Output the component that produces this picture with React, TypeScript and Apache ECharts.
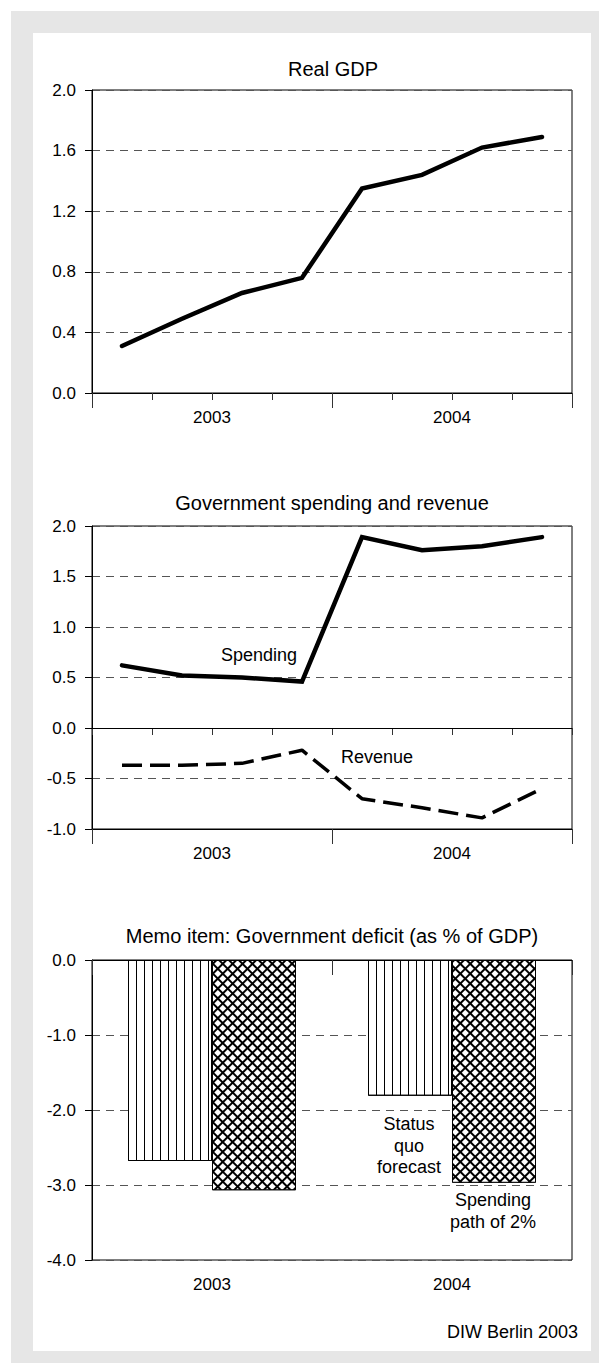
import React, { useEffect, useRef } from "react";
import * as echarts from "echarts";

const quarters = ["2003 Q1", "2003 Q2", "2003 Q3", "2003 Q4", "2004 Q1", "2004 Q2", "2004 Q3", "2004 Q4"];
const years = ["2003", "2004"];
const realGdp = [0.31, 0.49, 0.66, 0.76, 1.35, 1.44, 1.62, 1.69];
const spending = [0.62, 0.52, 0.5, 0.46, 1.89, 1.76, 1.8, 1.89];
const revenue = [-0.37, -0.37, -0.35, -0.22, -0.7, -0.79, -0.89, -0.6];
const deficitStatusQuo = [-2.68, -1.81];
const deficitSpendingPath = [-3.07, -2.97];
const chartTitles = ["Real GDP", "Government spending and revenue", "Memo item: Government deficit (as % of GDP)"];
const seriesNames = ["Real GDP", "Spending", "Revenue", "Status quo forecast", "Spending path of 2%"];
const source = "DIW Berlin 2003";

const FONT = '"Liberation Sans", Arial, Helvetica, sans-serif';

function quarterAxis(gridIndex: number) {
  return {
    type: "category",
    gridIndex,
    data: quarters,
    position: "bottom",
    boundaryGap: true,
    axisLine: { show: true, lineStyle: { color: "#000", width: 1 } },
    axisTick: { show: true, interval: 0, length: 7, lineStyle: { color: "#333" } },
    axisLabel: { show: false },
    splitLine: { show: false },
  };
}

function yearAxis(gridIndex: number) {
  return {
    type: "category",
    gridIndex,
    data: years,
    position: "bottom",
    boundaryGap: true,
    axisLine: { show: true, lineStyle: { color: "#000", width: 1 } },
    axisTick: { show: true, interval: 0, length: 15, lineStyle: { color: "#333" } },
    axisLabel: { show: true, margin: 16, fontSize: 17, color: "#000", fontFamily: FONT },
    splitLine: { show: false },
  };
}

function valueAxis(gridIndex: number, min: number, max: number, interval: number) {
  return {
    type: "value",
    gridIndex,
    min,
    max,
    interval,
    axisLine: { show: true, lineStyle: { color: "#000", width: 1 } },
    axisTick: { show: true, length: 7, lineStyle: { color: "#000" } },
    axisLabel: {
      margin: 16,
      fontSize: 17,
      color: "#000",
      fontFamily: FONT,
      formatter: (v: number) => v.toFixed(1),
    },
    splitLine: { show: true, lineStyle: { color: "#555", width: 1, type: [8, 6] } },
  };
}

function textEl(text: string, x: number, y: number, size: number, align = "center", lineHeight?: number) {
  return {
    type: "text",
    x,
    y,
    z: 100,
    style: {
      text,
      fontSize: size,
      fontFamily: FONT,
      fill: "#000",
      align,
      verticalAlign: "middle",
      textAlign: align,
      textVerticalAlign: "middle",
      lineHeight: lineHeight || size * 1.2,
    },
  };
}

function buildOption() {
  const grids = [
    { left: 92, top: 90, width: 480, height: 303 },
    { left: 92, top: 526, width: 480, height: 303 },
    { left: 92, top: 960, width: 480, height: 300 },
  ].map((g) => ({
    ...g,
    show: true,
    borderColor: "#000",
    borderWidth: 1,
    backgroundColor: "transparent",
    containLabel: false,
  }));

  return {
    animation: false,
    aria: { enabled: true, decal: { show: true } },
    textStyle: { fontFamily: FONT },
    grid: grids,
    xAxis: [quarterAxis(0), yearAxis(0), quarterAxis(1), yearAxis(1), yearAxis(2)],
    yAxis: [valueAxis(0, 0, 2, 0.4), valueAxis(1, -1, 2, 0.5), valueAxis(2, -4, 0, 1)],
    graphic: [
      { type: "rect", z: -20, shape: { x: 11, y: 11, width: 588, height: 1352 }, style: { fill: "#e6e6e6" } },
      { type: "rect", z: -10, shape: { x: 33, y: 33, width: 558, height: 1318 }, style: { fill: "#fff" } },
      textEl(chartTitles[0], 333, 69, 20),
      textEl(chartTitles[1], 332, 503, 20),
      textEl(chartTitles[2], 332, 936, 20),
      textEl("Spending", 259, 655, 18),
      textEl("Revenue", 377, 757, 18),
      textEl("Status\nquo\nforecast", 409, 1145.5, 18, "center", 21.5),
      textEl("Spending\npath of 2%", 493, 1211, 18, "center", 22),
      textEl(source, 578, 1332, 18, "right"),
    ],
    series: [
      {
        name: seriesNames[0],
        type: "line",
        xAxisIndex: 0,
        yAxisIndex: 0,
        data: realGdp,
        symbol: "none",
        lineStyle: { color: "#000", width: 4.5, cap: "round", join: "miter" },
        z: 5,
      },
      {
        name: seriesNames[1],
        type: "line",
        xAxisIndex: 2,
        yAxisIndex: 1,
        data: spending,
        symbol: "none",
        lineStyle: { color: "#000", width: 4.5, cap: "round", join: "miter" },
        z: 5,
        markLine: {
          silent: true,
          symbol: "none",
          label: { show: false },
          lineStyle: { color: "#000", width: 1, type: "solid" },
          data: [{ yAxis: 0 }],
        },
      },
      {
        name: seriesNames[2],
        type: "line",
        xAxisIndex: 2,
        yAxisIndex: 1,
        data: revenue,
        symbol: "none",
        lineStyle: { color: "#000", width: 3.5, type: [20, 8] },
        z: 5,
      },
      {
        name: seriesNames[3],
        type: "bar",
        xAxisIndex: 4,
        yAxisIndex: 2,
        data: deficitStatusQuo,
        barWidth: 84,
        barGap: "0%",
        itemStyle: {
          color: "#fff",
          borderColor: "#000",
          borderWidth: 1,
          decal: {
            symbol: "rect",
            symbolSize: 1,
            color: "#000",
            backgroundColor: "#fff",
            dashArrayX: [1, 6.5],
            dashArrayY: [10, 0],
            rotation: 0,
          },
        },
      },
      {
        name: seriesNames[4],
        type: "bar",
        xAxisIndex: 4,
        yAxisIndex: 2,
        data: deficitSpendingPath,
        barWidth: 84,
        barGap: "0%",
        itemStyle: {
          color: "#000",
          borderColor: "#000",
          borderWidth: 1,
          decal: {
            symbol: "rect",
            symbolSize: 1,
            color: "#fff",
            backgroundColor: "#000",
            dashArrayX: [4.4, 1.1],
            dashArrayY: [4.4, 1.1],
            rotation: Math.PI / 4,
          },
        },
      },
    ],
  };
}

export default function App() {
  const ref = useRef<HTMLDivElement>(null);
  useEffect(() => {
    if (!ref.current) return;
    const chart = echarts.init(ref.current, null, { renderer: "svg" });
    chart.setOption(buildOption() as any);
    return () => chart.dispose();
  }, []);
  return (
    <div
      ref={ref}
      style={{ position: "absolute", left: 0, top: 0, width: 599, height: 1365, background: "#fff" }}
    />
  );
}
